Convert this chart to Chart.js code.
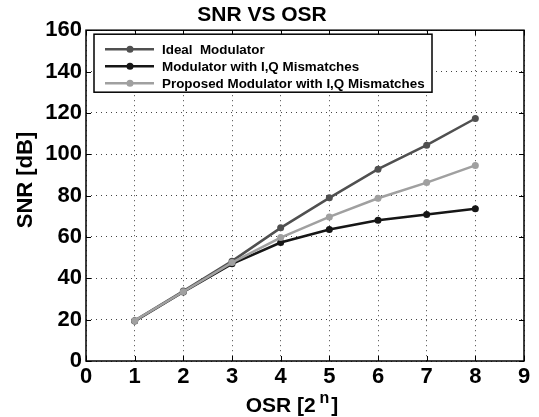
<!DOCTYPE html>
<html>
<head>
<meta charset="utf-8">
<script src="https://cdn.jsdelivr.net/npm/chart.js@4.4.0/dist/chart.umd.min.js"></script>
<style>
    html, body { margin: 0; padding: 0; background: #fff; }
    #wrap { width: 539px; height: 417px; }
</style>
</head>
<body>
<div id="wrap"><canvas id="snrChart" width="539" height="417"></canvas></div>
<script>
// Data
const osrValues = [1, 2, 3, 4, 5, 6, 7, 8];
const idealSnr = [19.5, 33.8, 48.3, 64.4, 78.9, 92.8, 104.4, 117.3];
const mismatchSnr = [19.3, 33.4, 47.0, 57.3, 63.6, 68.1, 70.9, 73.6];
const proposedSnr = [19.5, 33.5, 47.6, 59.7, 69.7, 78.7, 86.3, 94.6];

const seriesLabels = ['Ideal  Modulator', 'Modulator with I,Q Mismatches', 'Proposed Modulator with I,Q Mismatches'];
const seriesColors = ['#505050', '#161616', '#a0a0a0'];

const FONT = '"Liberation Sans", Arial, sans-serif';

function toPoints(ys) {
    return osrValues.map((x, i) => ({ x: x, y: ys[i] }));
}

/**
 * Box, inward ticks, axis titles and legend (MATLAB look)
 */
const matlabFrame = {
    id: 'matlabFrame',
    afterDraw(chart) {
        const ctx = chart.ctx;
        const ca = chart.chartArea;
        const xs = chart.scales.x;
        const ys = chart.scales.y;

        ctx.save();
        // ticks pointing inward
        ctx.strokeStyle = '#000';
        ctx.lineWidth = 1;
        ctx.beginPath();
        xs.ticks.forEach(t => {
            const px = Math.round(xs.getPixelForValue(t.value)) + 0.5;
            ctx.moveTo(px, ca.bottom); ctx.lineTo(px, ca.bottom - 5);
            ctx.moveTo(px, ca.top); ctx.lineTo(px, ca.top + 5);
        });
        ys.ticks.forEach(t => {
            const py = Math.round(ys.getPixelForValue(t.value)) + 0.5;
            ctx.moveTo(ca.left, py); ctx.lineTo(ca.left + 5, py);
            ctx.moveTo(ca.right, py); ctx.lineTo(ca.right - 5, py);
        });
        ctx.stroke();

        // box
        ctx.lineWidth = 1.5;
        ctx.strokeRect(ca.left, ca.top, ca.right - ca.left, ca.bottom - ca.top);

        // y title
        ctx.fillStyle = '#000';
        ctx.font = 'bold 22px ' + FONT;
        ctx.textAlign = 'center';
        ctx.textBaseline = 'middle';
        ctx.save();
        ctx.translate(26, 180);
        ctx.rotate(-Math.PI / 2);
        ctx.fillText('SNR [dB]', 0, 0);
        ctx.restore();

        // x title with superscript n
        ctx.textAlign = 'left';
        ctx.textBaseline = 'alphabetic';
        ctx.font = 'bold 21px ' + FONT;
        const part1 = 'OSR [2 ';
        const w1 = ctx.measureText(part1).width;
        ctx.font = 'bold 16px ' + FONT;
        const wn = ctx.measureText('n').width;
        ctx.font = 'bold 21px ' + FONT;
        const w3 = ctx.measureText(']').width;
        const startX = 292 - (w1 + wn + w3) / 2;
        const baseY = 412;
        ctx.fillText(part1, startX, baseY);
        ctx.font = 'bold 16px ' + FONT;
        ctx.fillText('n', startX + w1 - 2, baseY - 9);
        ctx.font = 'bold 21px ' + FONT;
        ctx.fillText(']', startX + w1 + wn, baseY);

        // legend
        const lx = ca.left + 8, ly = ca.top + 4, lw = 338, lh = 58;
        ctx.fillStyle = '#fff';
        ctx.fillRect(lx, ly, lw, lh);
        ctx.strokeStyle = '#000';
        ctx.lineWidth = 1.5;
        ctx.strokeRect(lx, ly, lw, lh);
        ctx.font = 'bold 13.4px ' + FONT;
        ctx.textBaseline = 'middle';
        chart.data.datasets.forEach((ds, i) => {
            const ry = ly + 15 + i * 17;
            ctx.strokeStyle = ds.borderColor;
            ctx.lineWidth = 2.5;
            ctx.beginPath();
            ctx.moveTo(lx + 11, ry);
            ctx.lineTo(lx + 60, ry);
            ctx.stroke();
            ctx.fillStyle = ds.borderColor;
            ctx.beginPath();
            ctx.arc(lx + 36, ry, 3.5, 0, Math.PI * 2);
            ctx.fill();
            ctx.fillStyle = '#000';
            ctx.fillText(ds.label, lx + 68, ry + 1);
        });
        ctx.restore();
    }
};

const ctx = document.getElementById('snrChart');
new Chart(ctx, {
    type: 'line',
    data: {
        datasets: [
            {
                label: seriesLabels[0],
                data: toPoints(idealSnr),
                borderColor: seriesColors[0],
                backgroundColor: seriesColors[0],
                order: 1
            },
            {
                label: seriesLabels[1],
                data: toPoints(mismatchSnr),
                borderColor: seriesColors[1],
                backgroundColor: seriesColors[1],
                order: 2
            },
            {
                label: seriesLabels[2],
                data: toPoints(proposedSnr),
                borderColor: seriesColors[2],
                backgroundColor: seriesColors[2],
                order: 0
            }
        ]
    },
    options: {
        responsive: false,
        animation: false,
        layout: { padding: { left: 0, right: 15, top: 0, bottom: 0 } },
        elements: {
            line: { borderWidth: 2.5, tension: 0 },
            point: { radius: 3.5, borderWidth: 0, hoverRadius: 3.5 }
        },
        plugins: {
            legend: { display: false },
            tooltip: { enabled: false },
            title: {
                display: true,
                text: 'SNR VS OSR',
                color: '#000',
                font: { family: FONT, size: 21, weight: 'bold' },
                padding: { top: 3, bottom: 2 }
            }
        },
        scales: {
            x: {
                type: 'linear',
                min: 0,
                max: 9,
                ticks: {
                    stepSize: 1,
                    color: '#000',
                    padding: 3,
                    font: { family: FONT, size: 22, weight: 'bold' }
                },
                grid: { color: '#444', lineWidth: 1, drawTicks: false },
                border: { display: false, dash: [1, 4] },
                afterFit(scale) { scale.height = 56; }
            },
            y: {
                min: 0,
                max: 160,
                ticks: {
                    stepSize: 20,
                    color: '#000',
                    padding: 4,
                    font: { family: FONT, size: 22, weight: 'bold' }
                },
                grid: { color: '#444', lineWidth: 1, drawTicks: false },
                border: { display: false, dash: [1, 4] },
                afterFit(scale) { scale.width = 86; }
            }
        }
    },
    plugins: [matlabFrame]
});
</script>
</body>
</html>
